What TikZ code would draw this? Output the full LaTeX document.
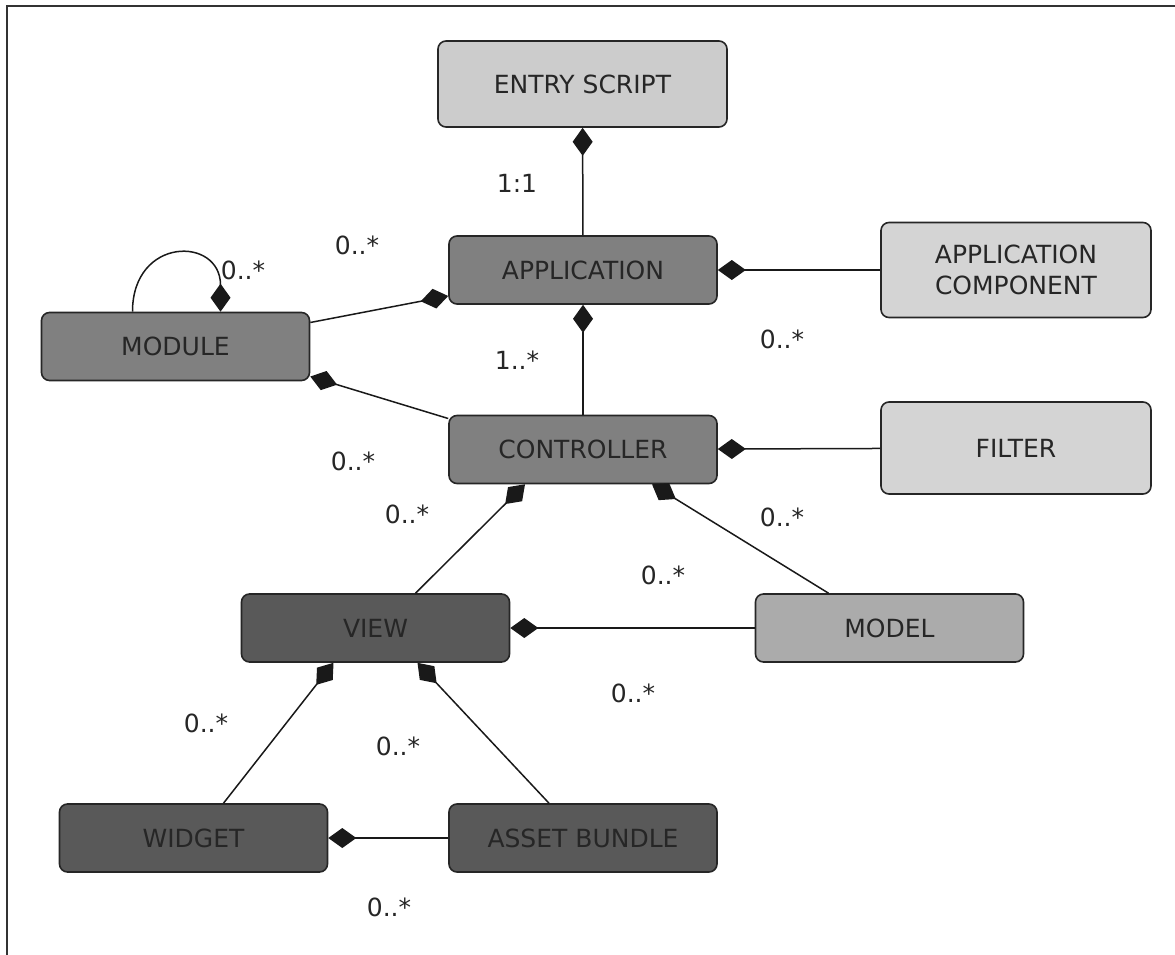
\documentclass[tikz,border=0pt]{standalone}
\usepackage{fontspec}
\setmainfont{DejaVu Sans}
\usetikzlibrary{arrows.meta}
\begin{document}
\begin{tikzpicture}[x=1pt,y=-1pt,
	box/.style={draw=black!85,line width=1.6pt,rounded corners=8pt,minimum width=268pt,minimum height=68pt,
		text=black!85,font=\fontsize{25}{31}\selectfont,align=center},
	lite/.style={box,fill=black!17},
	mid/.style={box,fill=black!50},
	dark/.style={box,fill=black!65},
	link/.style={line width=1.5pt,draw=black!90},
	has/.style={link,-{Diamond[length=28pt,width=20pt]}},
	mult/.style={text=black!85,font=\fontsize{25}{29}\selectfont}]
\useasboundingbox (0,0) rectangle (1175,955);
\draw[line width=2pt,black!80] (7,955) -- (7,6) -- (1175,6);

% boxes
\node[lite,fill=black!20,minimum width=289pt,minimum height=86pt] (entry) at (582.5,84) {ENTRY SCRIPT};
\node[mid] (app) at (583,270) {APPLICATION};
\node[lite,minimum width=270pt,minimum height=95pt] (comp) at (1016,270) {APPLICATION\\COMPONENT};
\node[mid] (module) at (175.5,346.5) {MODULE};
\node[mid] (ctrl) at (583,449.5) {CONTROLLER};
\node[lite,minimum width=270pt,minimum height=92pt] (filter) at (1016,448) {FILTER};
\node[dark] (view) at (375.5,628) {VIEW};
\node[box,fill=black!33] (model) at (889.5,628) {MODEL};
\node[dark] (widget) at (193.5,838) {WIDGET};
\node[dark] (asset) at (583,838) {ASSET BUNDLE};

% composition links
\draw[has] (app) -- (entry);
\draw[has] (comp) -- (app);
\draw[has] ([yshift=24pt]module.east) -- ([yshift=-26pt]app.west);
\draw[has] ([xshift=-43pt]module.north) to[out=90,in=90,looseness=2.2] ([xshift=45pt]module.north);
\draw[has] (ctrl) -- (app);
\draw[has] ([yshift=31pt]ctrl.west) -- ([yshift=-30pt]module.east);
\draw[has] (filter) -- (ctrl);
\draw[has] ([xshift=40pt]view.north) -- ([xshift=-58pt]ctrl.south);
\draw[has] ([xshift=-61pt]model.north) -- ([xshift=69pt]ctrl.south);
\draw[has] (model) -- (view);
\draw[has] ([xshift=30pt]widget.north) -- ([xshift=-42pt]view.south);
\draw[has] ([xshift=-34pt]asset.north) -- ([xshift=42pt]view.south);
\draw[has] (asset) -- (widget);

% multiplicities
\foreach \t/\x/\y [count=\i] in {1:1/517/183, 0..*/357/245, 0..*/243/270, 0..*/782/339,
	1..*/517/360, 0..*/353/461, 0..*/407/514, 0..*/782/517, 0..*/663/575,
	0..*/633/693, 0..*/206/723, 0..*/398/746, 0..*/389/907}
	\node[mult] (m\i) at (\x,\y) {\t};
\end{tikzpicture}
\end{document}
